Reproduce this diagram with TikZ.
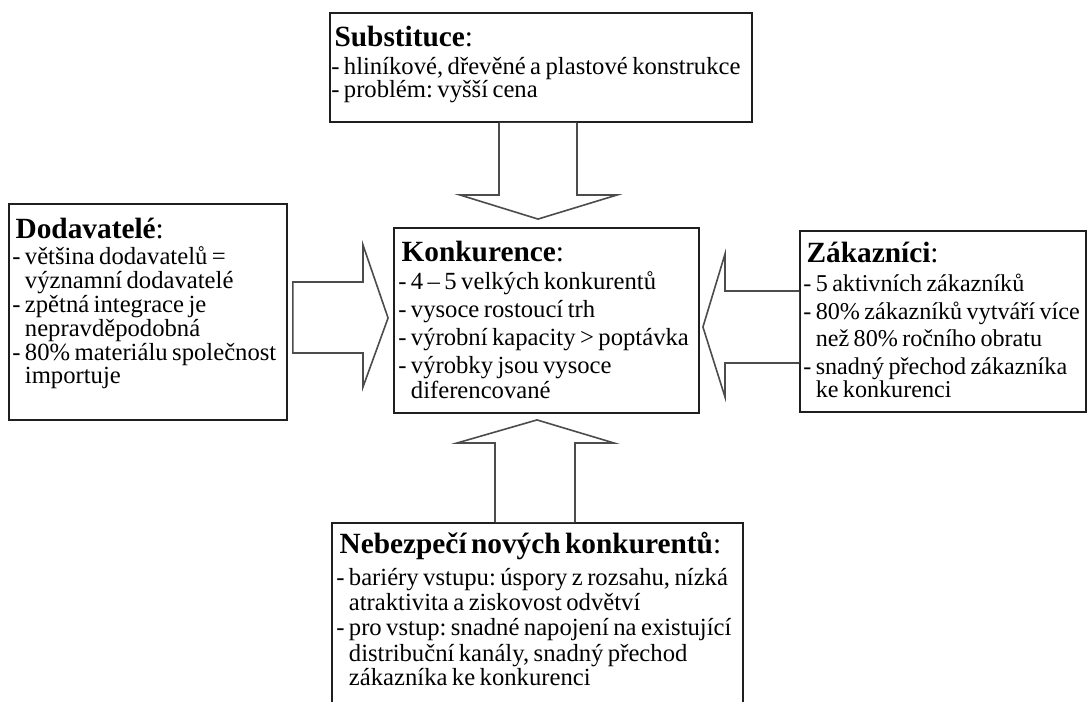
\documentclass[tikz,border=0pt]{standalone}
\usepackage{fontspec}
\setmainfont{Liberation Serif}
\usetikzlibrary{calc,fit}

% title and body type
\newcommand{\boxtitle}[1]{\hspace{2.5pt}{\fontsize{22pt}{22pt}\selectfont\bfseries #1}{\fontsize{22pt}{22pt}\selectfont:}}
\newcommand{\bodyfont}[2][18.5pt]{\frenchspacing\fontsize{#1}{#2}\selectfont}
\newcommand{\ind}{\hphantom{- }}

\begin{document}
\begin{tikzpicture}[x=0.75pt,y=-0.75pt,
  box/.style={draw=black!88, line width=1.4pt, fill=white, inner sep=0pt},
  blockarrow/.style={draw=black!70, line width=1.2pt, fill=white, line join=miter},
  txt/.style={anchor=base west, inner sep=0pt, align=left, text width=#1},
]
\clip (0,0) rectangle (1089,702);
\fill[white] (0,0) rectangle (1089,702);

% boxes of the five forces
\node[box, fit={(330,13) (752,122)}] (sub) {};
\node[box, fit={(9,204) (287,420)}] (dod) {};
\node[box, fit={(394,228) (699,413)}] (konk) {};
\node[box, fit={(800,231) (1086,412)}] (zak) {};
\node[box, fit={(332,523) (743,720)}] (neb) {};

% block arrows towards the centre
\draw[blockarrow] (499,0 |- sub.south) -- (499,195) -- (460,195)
  -- ($(538,0 |- konk.north)+(0,-8)$) -- (617,195) -- (577,195) -- (577,0 |- sub.south);
\draw[blockarrow] ($(dod.east |- 0,282)+(5,0)$) -- (363,282) -- (363,245)
  -- ($(konk.west |- 0,318)+(-5,0)$) -- (363,387) -- (363,353)
  -- ($(dod.east |- 0,353)+(5,0)$) -- cycle;
\draw[blockarrow] (zak.west |- 0,291) -- (725,291) -- (725,254)
  -- ($(konk.east |- 0,327)+(3,0)$) -- (725,397) -- (725,363) -- (zak.west |- 0,363);
\draw[blockarrow] (495,0 |- neb.north) -- (495,443) -- (457,443)
  -- ($(537,0 |- konk.south)+(0,6)$) -- (614,443) -- (575,443) -- (575,0 |- neb.north);

% texts
\node[txt=420pt] (subT) at (331,47) {\bodyfont{19.5pt}%
  \boxtitle{Substituce}\\[0.8pt]
  - hliníkové, dřevěné a plastové konstrukce\\
  - problém: vyšší cena};

\node[txt=220pt] (dodT) at (12,239) {\bodyfont{18pt}%
  \boxtitle{Dodavatelé}\\[1.5pt]
  - většina dodavatelů =\\
  \ind významní dodavatelé\\
  - zpětná integrace je\\
  \ind nepravděpodobná\\
  - 80\% materiálu společnost\\
  \ind importuje};

\node[txt=240pt] (konkT) at (398,262) {\bodyfont{21pt}%
  \boxtitle{Konkurence}\\
  - 4 -- 5 velkých konkurentů\\
  - vysoce rostoucí trh\\
  - výrobní kapacity > poptávka\\
  - výrobky jsou vysoce\\
  \ind diferencované};

\node[txt=230pt] (zakT) at (803,263) {\bodyfont[18.1pt]{20.6pt}%
  \boxtitle{Zákazníci}\\[1pt]
  - 5 aktivních zákazníků\\
  - 80\% zákazníků vytváří více\\
  \ind než 80\% ročního obratu\\
  - snadný přechod zákazníka\\
  \ind ke konkurenci};

\node[txt=320pt] (nebT) at (336,553) {\bodyfont{19.1pt}%
  \boxtitle{Nebezpečí nových konkurentů}\\[4.9pt]
  - bariéry vstupu: úspory z rozsahu, nízká\\
  \ind atraktivita a ziskovost odvětví\\
  - pro vstup: snadné napojení na existující\\
  \ind distribuční kanály, snadný přechod\\
  \ind zákazníka ke konkurenci};
\end{tikzpicture}
\end{document}
